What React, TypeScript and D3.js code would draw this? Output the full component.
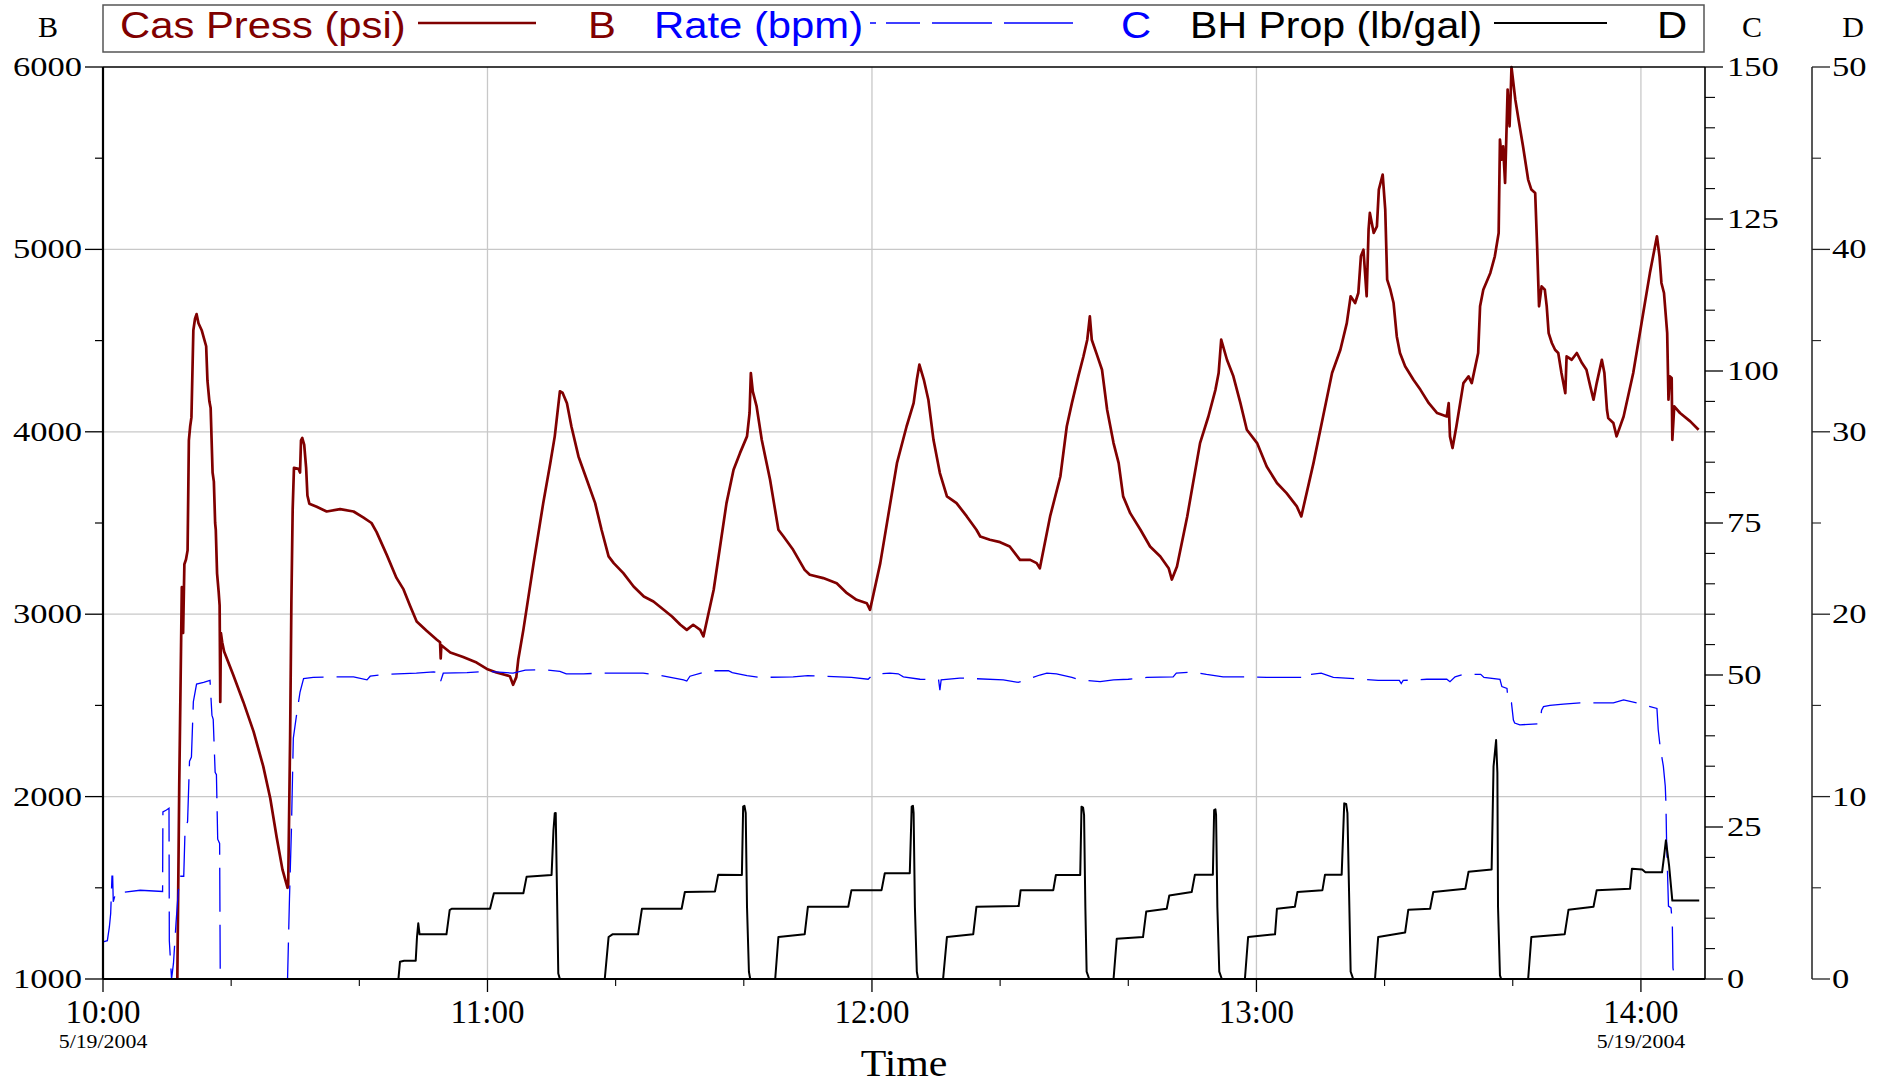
import React from 'react';
import * as d3 from 'd3';

// ---------- data (minutes after 10:00, value) ----------
const timeMajorTicks = [0, 60, 120, 180, 240];
const timeLabels = ['10:00', '11:00', '12:00', '13:00', '14:00'];
const timeMinorTicks = [20, 40, 80, 100, 140, 160, 200, 220];
const dateLabel = '5/19/2004';
const pressTicks = [1000, 2000, 3000, 4000, 5000, 6000];
const pressMinor = [1500, 2500, 3500, 4500, 5500];
const rateTicks = [0, 25, 50, 75, 100, 125, 150];
const propTicks = [0, 10, 20, 30, 40, 50];

const casPress: [number, number][] = [
  [11.6,1000],[11.9,2066],[12.3,3148],[12.43,2922],[12.5,2897],[12.7,3274],[12.95,3300],[13.2,3350],[13.4,3953],[13.6,4029],[13.8,4079],[14.1,4557],[14.36,4620],[14.6,4645],[14.9,4595],[15.4,4557],[15.8,4507],[16.1,4469],[16.3,4280],[16.6,4167],[16.8,4130],[17.1,3777],[17.3,3727],[17.5,3500],[17.6,3463],[17.8,3224],[18.05,3123],[18.2,3048],[18.3,2519],[18.4,2897],[18.6,2846],[18.9,2796],[20.3,2670],[21.9,2519],[23.5,2356],[25,2167],[26.1,1991],[27.1,1777],[28,1601],[28.8,1500],[28.9,1513],[29.2,2318],[29.4,3073],[29.6,3576],[29.8,3802],[30.5,3797],[30.75,3777],[30.9,3953],[31.1,3966],[31.4,3928],[31.7,3802],[31.9,3651],[32.2,3606],[33.35,3589],[34.9,3563],[37,3576],[39.1,3563],[40.6,3531],[41.9,3500],[42.7,3450],[44.3,3324],[45.8,3199],[46.9,3136],[47.9,3048],[48.95,2960],[50.5,2909],[52.1,2860],[52.6,2846],[52.7,2758],[52.8,2830],[54.2,2790],[56.2,2765],[58.3,2735],[59.9,2700],[61.4,2680],[63.5,2660],[64,2613],[64.5,2655],[64.8,2750],[65.6,2914],[67.2,3280],[68.7,3609],[69.8,3828],[70.5,3975],[71.3,4222],[71.7,4215],[72.4,4157],[73.1,4029],[74.2,3865],[75.5,3737],[76.8,3609],[77.8,3463],[78.9,3317],[79.7,3280],[81.2,3225],[82.8,3152],[84.4,3097],[85.9,3070],[87.5,3024],[88.8,2987],[90.1,2942],[91.1,2914],[92.1,2942],[93.2,2914],[93.7,2878],[95.3,3134],[97.3,3609],[98.4,3792],[99.4,3883],[100.5,3975],[100.9,4103],[101.1,4322],[101.4,4222],[102,4139],[102.8,3956],[104.1,3737],[105.4,3463],[106.2,3426],[107.7,3353],[109.5,3243],[110.3,3216],[112.4,3198],[114.5,3170],[116.1,3115],[117.6,3079],[119.2,3060],[119.7,3024],[121.3,3280],[123.9,3828],[125.4,4029],[126.5,4157],[127,4285],[127.4,4368],[128.1,4285],[128.8,4176],[129.6,3956],[130.6,3774],[131.7,3646],[133.2,3609],[134.8,3536],[136.3,3463],[136.9,3426],[138.4,3408],[140,3395],[141.5,3371],[143.1,3298],[144.7,3298],[145.7,3280],[146.2,3252],[147.8,3536],[149.4,3755],[150.4,4029],[151.2,4157],[152.2,4304],[153,4413],[153.6,4505],[154,4633],[154.3,4505],[155.1,4423],[155.9,4340],[156.7,4121],[157.7,3938],[158.5,3828],[159.2,3646],[160.3,3554],[161.9,3463],[163.4,3371],[165,3316],[166.3,3252],[166.8,3190],[167.6,3262],[169.2,3536],[171.2,3938],[172.5,4084],[173.6,4230],[174.1,4322],[174.5,4505],[175.4,4395],[176.4,4304],[177.5,4157],[178.5,4011],[180.1,3938],[181.6,3810],[183.2,3719],[184.7,3664],[186.3,3591],[187,3536],[188.9,3828],[190.4,4084],[191.8,4322],[193.1,4450],[194.1,4596],[194.7,4743],[195.4,4706],[195.9,4761],[196.3,4962],[196.7,4998],[197.2,4743],[197.5,5108],[197.7,5200],[198.3,5090],[198.8,5126],[199.1,5328],[199.7,5410],[200.1,5218],[200.4,4834],[200.9,4779],[201.4,4706],[201.9,4523],[202.4,4432],[203.2,4359],[204.5,4285],[205.6,4230],[206.9,4157],[208.2,4103],[209.7,4084],[210,4157],[210.2,3975],[210.6,3911],[211.2,4029],[212.3,4267],[213.1,4304],[213.6,4267],[214.6,4432],[214.9,4688],[215.4,4779],[216.5,4871],[217.2,4962],[217.8,5090],[218,5602],[218.3,5492],[218.5,5565],[218.8,5364],[219.2,5876],[219.5,5675],[219.7,5876],[219.8,6000],[220.4,5821],[220.9,5712],[221.6,5565],[222.4,5383],[222.9,5328],[223.5,5309],[223.8,5017],[224.1,4688],[224.5,4797],[225,4779],[225.3,4688],[225.6,4541],[226.1,4487],[226.6,4450],[227.1,4432],[227.6,4322],[228.2,4212],[228.4,4413],[229.2,4395],[230,4432],[230.8,4377],[231.5,4340],[232.1,4249],[232.6,4176],[233.1,4267],[233.9,4395],[234.3,4322],[234.7,4121],[234.9,4075],[235.7,4048],[236.2,3975],[237.3,4084],[238.8,4322],[240.1,4596],[241.4,4870],[242.5,5072],[242.9,4962],[243.2,4816],[243.6,4761],[244.1,4541],[244.3,4176],[244.5,4304],[244.8,4295],[244.9,3956],[245.2,4139],[246.1,4103],[247.7,4057],[249,4011]
];

const rate: [number, number][] = [
  [0,6.1],[0.68,6.3],[1.0,8.6],[1.2,10.8],[1.4,16.9],[1.51,16.9],[1.6,12.7],[2.0,14.2],[2.65,14.2],[5.8,14.6],[9.3,14.4],[9.35,27.5],[9.9,27.8],[10.3,28.1],[10.35,6.3],[10.7,0],[11,2.6],[11.4,9.3],[11.75,14.4],[12,16.9],[12.6,16.9],[12.8,24.4],[13.2,25.9],[13.5,35.8],[13.8,36.5],[14.1,45.6],[14.6,48.5],[15.7,48.8],[16.7,49.1],[17,43.4],[17.2,42.7],[17.5,34],[17.7,33.6],[17.9,23],[18.2,22.3],[18.3,0],[28.8,0],[29.1,13.2],[29.4,24.4],[29.7,39.6],[30.2,43.4],[30.75,47.2],[31.3,49.4],[32.8,49.6],[36,49.7],[39.1,49.7],[41.2,49.2],[41.7,49.8],[43.8,50.1],[48.9,50.3],[51.6,50.5],[52.6,50.4],[52.7,49.0],[53.1,50.3],[56.8,50.4],[59.9,50.6],[64,50.3],[65.9,50.8],[68.7,50.9],[71.3,50.6],[72.3,50.2],[75,50.2],[77.6,50.3],[84.3,50.3],[86.7,50],[90.6,49.2],[91.1,49.0],[91.6,49.8],[94.5,50.7],[97.6,50.7],[98.2,50.4],[100.5,49.9],[102.5,49.6],[107.7,49.7],[110,49.9],[116.8,49.6],[119.4,49.3],[120.2,50.1],[122.8,50.3],[124.1,50.2],[124.9,49.7],[127.5,49.3],[130.4,49.2],[130.6,47.5],[130.8,49.2],[133.7,49.5],[140.5,49.2],[142.8,48.8],[144.1,49.2],[146.2,50],[147.3,50.3],[148.8,50.2],[151.2,49.6],[152.5,49.2],[155.6,48.9],[157.7,49.2],[160,49.3],[162.9,49.6],[167,49.7],[167.5,50.3],[170.1,50.5],[172.2,50.1],[174.8,49.7],[179,49.7],[181.6,49.6],[187.1,49.6],[187.4,49.3],[187.8,50],[190.1,50.3],[192,49.6],[196.7,49.3],[199,49.1],[202.3,49.1],[202.6,48.6],[202.9,49.1],[206.6,49.3],[209.7,49.3],[210.2,48.9],[211,49.7],[212.3,50.1],[215,50.1],[215.5,49.6],[218,49.3],[218.3,48.1],[219.1,47.8],[219.3,45.4],[219.8,45.4],[220.1,42.6],[220.3,42.1],[221.1,41.8],[224.2,42],[224.5,44.2],[224.8,44.8],[225.8,45],[227.9,45.2],[230.5,45.4],[235.7,45.4],[237.3,45.9],[239.4,45.4],[242.5,44.5],[242.7,41],[243,38.2],[243.5,35],[243.8,31.7],[243.9,29],[244,23],[244.3,12],[244.7,11.7],[244.9,9.2],[245,1.8],[245.3,0],[249,0]
];

const bhProp: [number, number][] = [
  [0,0],[46.1,0],[46.35,0.95],[47,1.0],[48.8,1.0],[49.0,2.3],[49.2,3.05],[49.4,2.45],[53.6,2.45],[54.1,3.78],[54.4,3.85],[60.4,3.85],[61,4.7],[65.6,4.7],[66.1,5.6],[70,5.7],[70.3,8.17],[70.5,9.09],[70.65,9.1],[70.8,5.8],[71.05,0.3],[71.3,0],
  [78.3,0],[78.9,2.3],[79.5,2.45],[83.5,2.45],[84.1,3.85],[90.3,3.85],[90.8,4.77],[95.5,4.8],[96,5.72],[99.7,5.7],[99.9,9.45],[100.1,9.5],[100.3,9.1],[100.5,3.96],[100.8,0.4],[101,0],
  [104.9,0],[105.4,2.3],[109.5,2.45],[110,3.96],[116.3,3.96],[116.8,4.87],[121.5,4.87],[122,5.8],[125.9,5.8],[126.2,9.45],[126.4,9.5],[126.5,9.1],[126.7,3.96],[127,0.4],[127.2,0],
  [131.1,0],[131.7,2.3],[135.8,2.45],[136.3,3.96],[142.9,4.0],[143.2,4.87],[148.3,4.87],[148.7,5.7],[152.5,5.7],[152.7,9.45],[152.95,9.4],[153.1,9.0],[153.3,3.96],[153.5,0.4],[153.9,0],
  [157.7,0],[158.2,2.2],[162.3,2.3],[162.8,3.7],[166,3.85],[166.4,4.58],[169.9,4.77],[170.4,5.72],[173.2,5.72],[173.4,9.26],[173.6,9.3],[173.7,9.0],[173.9,3.96],[174.2,0.4],[174.6,0],
  [178.2,0],[178.7,2.3],[182.9,2.45],[183.2,3.85],[186,3.96],[186.4,4.77],[190.3,4.87],[190.7,5.72],[193.3,5.72],[193.7,9.63],[194.0,9.6],[194.2,9.1],[194.5,3.96],[194.7,0.4],[195.1,0],
  [198.5,0],[199,2.3],[203.2,2.55],[203.7,3.8],[207.1,3.85],[207.6,4.77],[212.6,4.95],[213.1,5.88],[216.7,6.0],[217,11.65],[217.4,13.1],[217.6,11.3],[217.7,3.96],[218,0.2],[218.2,0],
  [222.4,0],[222.9,2.3],[228.1,2.45],[228.7,3.8],[232.6,3.96],[233.1,4.87],[238.3,4.95],[238.6,6.05],[240.2,6.0],[240.7,5.85],[243.3,5.85],[243.6,6.7],[243.9,7.6],[244.4,6.2],[244.9,4.3],[249.1,4.3]
];

// ---------- layout ----------
const W = 1890, H = 1086;
const L = 103, R = 1705, T = 67, B = 979;
const DX = 1812;
const RED = '#800000', BLUE = '#0000ff';
const SERIF = '"Liberation Serif", "Times New Roman", serif';
const SANS = '"Liberation Sans", Arial, sans-serif';

function ST({ x, y, sx = 1, size, anchor = 'start', fill = '#000', family = SERIF, children }: any) {
  return (
    <text transform={`translate(${x},${y}) scale(${sx},1)`} fontSize={size} fontFamily={family} textAnchor={anchor} fill={fill}>
      {children}
    </text>
  );
}

export default function App() {
  const x = d3.scaleLinear().domain([0, 250]).range([L, R]);
  const yB = d3.scaleLinear().domain([1000, 6000]).range([B, T]);
  const yC = d3.scaleLinear().domain([0, 150]).range([B, T]);
  const yD = d3.scaleLinear().domain([0, 50]).range([B, T]);

  const lineB = d3.line<[number, number]>().x(d => x(d[0])).y(d => yB(d[1]));
  const lineC = d3.line<[number, number]>().x(d => x(d[0])).y(d => yC(d[1]));
  const lineD = d3.line<[number, number]>().x(d => x(d[0])).y(d => yD(d[1]));

  const rateMinor = d3.range(0, 151, 5).filter(v => v % 25 !== 0);
  const propMinor = d3.range(5, 50, 10);
  const labelSize = 27, labelSx = 1.28;

  return (
    <svg width={W} height={H} style={{ position: 'absolute', left: 0, top: 0, background: '#fff' }}>
      <defs>
        <clipPath id="plot"><rect x={L} y={T - 2} width={R - L} height={B - T + 2} /></clipPath>
      </defs>
      <rect x={0} y={0} width={W} height={H} fill="#fff" />

      {/* grid */}
      {timeMajorTicks.slice(1).map(t => (
        <line key={'gx' + t} x1={x(t)} x2={x(t)} y1={T} y2={B} stroke="#c8c8c8" strokeWidth={1.3} />
      ))}
      {pressTicks.slice(1, -1).map(v => (
        <line key={'gy' + v} x1={L} x2={R} y1={yB(v)} y2={yB(v)} stroke="#c8c8c8" strokeWidth={1.3} />
      ))}

      {/* series */}
      <g clipPath="url(#plot)">
        <path d={lineB(casPress) || ''} fill="none" stroke={RED} strokeWidth={2.7} strokeLinejoin="round" />
        <path d={lineC(rate) || ''} fill="none" stroke={BLUE} strokeWidth={1.3} strokeDasharray="44,13" />
        <path d={lineD(bhProp) || ''} fill="none" stroke="#000" strokeWidth={2} strokeLinejoin="round" />
      </g>

      {/* frame */}
      <line x1={L} x2={R} y1={T} y2={T} stroke="#000" strokeWidth={1.5} />
      <line x1={L} x2={L} y1={T} y2={B} stroke="#000" strokeWidth={2.2} />
      <line x1={L} x2={R} y1={B} y2={B} stroke="#000" strokeWidth={2.2} />
      <line x1={R} x2={R} y1={T} y2={B} stroke="#000" strokeWidth={1.6} />
      <line x1={DX} x2={DX} y1={T} y2={B} stroke="#222" strokeWidth={1.5} />

      {/* left axis B */}
      {pressTicks.map(v => (
        <g key={'pb' + v}>
          <line x1={L - 18} x2={L} y1={yB(v)} y2={yB(v)} stroke="#000" strokeWidth={1.3} />
          <ST x={82} y={yB(v) + 9} sx={labelSx} size={labelSize} anchor="end">{v}</ST>
        </g>
      ))}
      {pressMinor.map(v => (
        <line key={'pm' + v} x1={L - 8} x2={L} y1={yB(v)} y2={yB(v)} stroke="#000" strokeWidth={1.2} />
      ))}

      {/* right axis C */}
      {rateTicks.map(v => (
        <g key={'rc' + v}>
          <line x1={R} x2={R + 18} y1={yC(v)} y2={yC(v)} stroke="#000" strokeWidth={1.3} />
          <ST x={1727} y={yC(v) + 9} sx={labelSx} size={labelSize}>{v}</ST>
        </g>
      ))}
      {rateMinor.map(v => (
        <line key={'rm' + v} x1={R} x2={R + 10} y1={yC(v)} y2={yC(v)} stroke="#000" strokeWidth={1.1} />
      ))}

      {/* right axis D */}
      {propTicks.map(v => (
        <g key={'pd' + v}>
          <line x1={DX} x2={DX + 18} y1={yD(v)} y2={yD(v)} stroke="#222" strokeWidth={1.3} />
          <ST x={1832} y={yD(v) + 9} sx={labelSx} size={labelSize}>{v}</ST>
        </g>
      ))}
      {propMinor.map(v => (
        <line key={'dm' + v} x1={DX} x2={DX + 9} y1={yD(v)} y2={yD(v)} stroke="#222" strokeWidth={1.1} />
      ))}

      {/* bottom axis */}
      {timeMajorTicks.map((t, i) => (
        <g key={'tx' + t}>
          <line x1={x(t)} x2={x(t)} y1={B} y2={B + 13} stroke="#000" strokeWidth={1.3} />
          <ST x={x(t)} y={1023} size={33} anchor="middle">{timeLabels[i]}</ST>
        </g>
      ))}
      {timeMinorTicks.map(t => (
        <line key={'tm' + t} x1={x(t)} x2={x(t)} y1={B} y2={B + 7} stroke="#000" strokeWidth={1.1} />
      ))}
      <ST x={x(0)} y={1048} sx={1.15} size={19} anchor="middle">{dateLabel}</ST>
      <ST x={x(240)} y={1048} sx={1.15} size={19} anchor="middle">{dateLabel}</ST>
      <ST x={(L + R) / 2} y={1076} sx={1.1} size={38} anchor="middle">Time</ST>

      {/* axis titles */}
      <ST x={48} y={37} size={30} anchor="middle">B</ST>
      <ST x={1752} y={37} size={30} anchor="middle">C</ST>
      <ST x={1853} y={37} size={30} anchor="middle">D</ST>

      {/* legend */}
      <rect x={103} y={5} width={1601} height={47} fill="#fff" stroke="#555" strokeWidth={1.5} />
      <ST x={120} y={38} sx={1.13} size={37} family={SANS} fill={RED}>Cas Press (psi)</ST>
      <line x1={418} x2={536} y1={23} y2={23} stroke={RED} strokeWidth={2.6} />
      <ST x={588} y={38} sx={1.13} size={37} family={SANS} fill={RED}>B</ST>
      <ST x={654} y={38} sx={1.13} size={37} family={SANS} fill={BLUE}>Rate (bpm)</ST>
      <line x1={870} x2={1073} y1={23} y2={23} stroke={BLUE} strokeWidth={1.3} strokeDasharray="6,10,34,12,60,12,70" />
      <ST x={1121} y={38} sx={1.13} size={37} family={SANS} fill={BLUE}>C</ST>
      <ST x={1190} y={38} sx={1.11} size={37} family={SANS} fill="#000">BH Prop (lb/gal)</ST>
      <line x1={1494} x2={1607} y1={23} y2={23} stroke="#000" strokeWidth={2} />
      <ST x={1657} y={38} sx={1.13} size={37} family={SANS} fill="#000">D</ST>
    </svg>
  );
}
